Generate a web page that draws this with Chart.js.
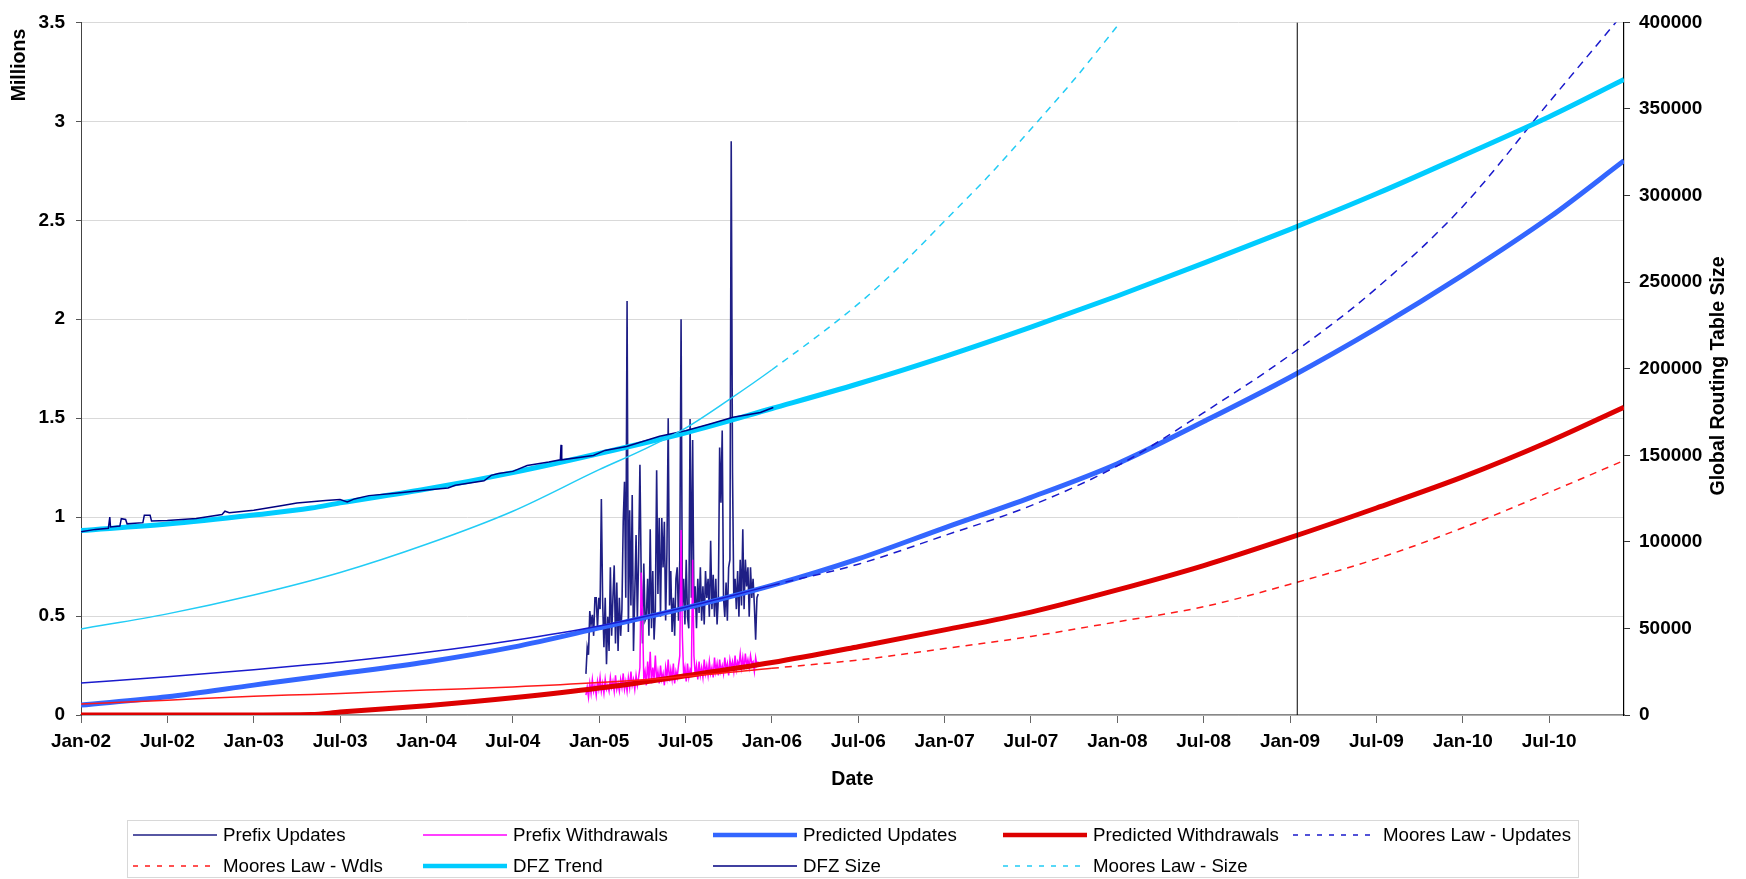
<!DOCTYPE html>
<html>
<head>
<meta charset="utf-8">
<title>BGP Updates and Routing Table Growth</title>
<script src="https://cdn.jsdelivr.net/npm/chart.js@4.4.0/dist/chart.umd.min.js"></script>
<style>
  html, body { margin: 0; padding: 0; background: #fff; }
  canvas { display: block; }
</style>
</head>
<body>
<canvas id="chart" width="1746" height="879"></canvas>
<script>
// ── Data ────────────────────────────────────────────────────────────────────
// x values are months counted from Jan-02
const tickMonths = [0, 6, 12, 18, 24, 30, 36, 42, 48, 54, 60, 66, 72, 78, 84, 90, 96, 102];
const tickLabels = ['Jan-02', 'Jul-02', 'Jan-03', 'Jul-03', 'Jan-04', 'Jul-04', 'Jan-05', 'Jul-05', 'Jan-06',
                    'Jul-06', 'Jan-07', 'Jul-07', 'Jan-08', 'Jul-08', 'Jan-09', 'Jul-09', 'Jan-10', 'Jul-10'];
const lastMonth = 107.2;      // right edge of the date axis
const measuredEnd = 48;       // Moores law lines turn dashed from here
const markerMonth = 84.5;     // vertical marker line

// smooth model curves (left axis, millions)
const curveMonths = [0, 6, 12, 16, 18, 24, 30, 36, 42, 48, 54, 60, 66, 72, 78, 84, 90, 96, 102, 107.2];
const predictedUpdates     = [0.050, 0.092, 0.151, 0.190, 0.209, 0.268, 0.343, 0.440, 0.541, 0.655,
                              0.789, 0.946, 1.100, 1.270, 1.483, 1.707, 1.954, 2.223, 2.514, 2.801];
const predictedWithdrawals = [0.000, 0.000, 0.000, 0.002, 0.015, 0.047, 0.087, 0.136, 0.198, 0.265,
                              0.345, 0.430, 0.520, 0.632, 0.755, 0.896, 1.046, 1.203, 1.382, 1.555];
const mooresUpdates        = [0.162, 0.193, 0.229, 0.255, 0.268, 0.317, 0.377, 0.450, 0.545, 0.655,
                              0.762, 0.907, 1.058, 1.259, 1.528, 1.819, 2.156, 2.570, 3.097, 3.550];
const mooresWdls           = [0.055, 0.075, 0.095, 0.104, 0.109, 0.126, 0.142, 0.164, 0.195, 0.236,
                              0.278, 0.336, 0.397, 0.471, 0.547, 0.661, 0.789, 0.946, 1.125, 1.286];

// routing table trend (right axis, entries)
const dfzTrend = [106600, 110300, 115500, 119500, 122500, 130500, 140000, 151000, 163000, 177000,
                  191300, 207000, 224000, 242000, 261000, 280500, 301000, 323000, 345500, 367000];

const mooresSizeMonths = [0, 6, 12, 18, 24, 30, 36, 39, 42, 45, 48, 54, 57, 60, 63, 66, 69, 72.2];
const mooresSize = [49700, 58400, 69300, 82300, 98600, 117700, 141700, 153000, 165700, 182000,
                    199400, 237400, 260000, 285300, 310800, 338500, 367000, 400000];

// measured routing table size
const dfzMonths = [0, 1, 1.9, 2.0, 2.05, 2.7, 2.8, 3.1, 3.2, 4.3, 4.4, 4.8, 4.9, 6, 8, 9.8, 10, 10.3,
                   12, 14, 15, 17, 18, 18.5, 19, 20, 22, 24, 25.5, 26, 28, 28.5, 29, 30, 31, 32.5,
                   33.3, 33.35, 33.4, 35.6, 36.4, 37.9, 40.2, 42, 43.7, 45.3, 47.2, 48.1];
const dfzSize = [105800, 107200, 107800, 114300, 108600, 109100, 113400, 112900, 110400, 111100,
                 115400, 115400, 112000, 112300, 113500, 115800, 117700, 116800, 118300, 121000,
                 122500, 123900, 124500, 123100, 124800, 126700, 128200, 129900, 131100, 132700,
                 135300, 138400, 139500, 140700, 144100, 146100, 147400, 156000, 147400, 149900,
                 152800, 155100, 161000, 164200, 168100, 171900, 174700, 177600];

// measured daily-ish samples, Dec-04 to Dec-05 (millions)
const noiseStart = 35.08;
const noiseEnd = 47.05;
const prefixUpdates = [
  0.208, 0.342, 0.304, 0.525, 0.458, 0.506, 0.40, 0.592, 0.592, 0.438, 0.592, 0.535, 1.092, 0.573,
  0.342, 0.592, 0.256, 0.496, 0.323, 0.746, 0.40, 0.592, 0.756, 0.362, 0.669, 0.323, 0.592, 0.40,
  0.535, 0.977, 1.179, 0.592, 2.092, 0.419, 1.035, 0.554, 1.112, 0.323, 0.612, 0.91, 0.477, 0.804,
  1.265, 0.688, 0.362, 0.765, 0.477, 0.496, 0.688, 0.40, 0.938, 0.438, 0.727, 0.381, 0.535, 1.237,
  0.612, 0.996, 0.496, 0.996, 0.746, 0.977, 0.477, 0.823, 1.50, 0.554, 0.727, 0.419, 0.592, 0.40,
  0.688, 0.746, 0.477, 0.785, 2.00, 0.535, 0.688, 0.458, 0.785, 0.496, 0.438, 1.496, 0.592, 1.39,
  0.535, 0.65, 0.438, 0.688, 0.515, 0.746, 0.477, 0.65, 0.458, 0.727, 0.592, 0.688, 0.496, 0.881,
  0.535, 0.708, 0.496, 0.688, 0.458, 0.592, 1.352, 1.073, 1.438, 0.592, 0.496, 0.669, 0.477, 0.746,
  0.785, 2.90, 1.227, 0.592, 0.688, 0.535, 0.727, 0.496, 0.785, 0.554, 0.938, 0.535, 0.785, 0.65,
  0.746, 0.496, 0.746, 0.592, 0.688, 0.554, 0.381, 0.592, 0.612
];
const prefixWithdrawals = [
  0.10, 0.14, 0.09, 0.16, 0.11, 0.18, 0.12, 0.15, 0.10, 0.17, 0.13, 0.19, 0.12, 0.16, 0.11, 0.18,
  0.13, 0.15, 0.12, 0.19, 0.14, 0.17, 0.12, 0.20, 0.13, 0.16, 0.12, 0.18, 0.14, 0.21, 0.13, 0.17,
  0.12, 0.19, 0.14, 0.22, 0.15, 0.18, 0.13, 0.20, 0.15, 0.19, 0.24, 0.72, 0.50, 0.18, 0.22, 0.15,
  0.27, 0.17, 0.32, 0.16, 0.24, 0.18, 0.30, 0.17, 0.22, 0.16, 0.25, 0.18, 0.21, 0.15, 0.24, 0.19,
  0.28, 0.17, 0.23, 0.18, 0.26, 0.16, 0.22, 0.19, 0.25, 0.30, 0.935, 0.40, 0.20, 0.24, 0.17, 0.26,
  0.19, 0.23, 0.21, 0.785, 0.30, 0.20, 0.25, 0.18, 0.27, 0.20, 0.24, 0.19, 0.28, 0.21, 0.25, 0.20,
  0.27, 0.21, 0.24, 0.19, 0.29, 0.22, 0.26, 0.20, 0.28, 0.22, 0.25, 0.21, 0.29, 0.23, 0.26, 0.20,
  0.28, 0.24, 0.27, 0.22, 0.30, 0.23, 0.27, 0.25, 0.31, 0.24, 0.29, 0.23, 0.31, 0.25, 0.28, 0.24,
  0.30, 0.26, 0.27, 0.22, 0.29, 0.25, 0.27
];

// ── Helpers ─────────────────────────────────────────────────────────────────
const FONT = "'Liberation Sans', Arial, Helvetica, sans-serif";
const pts = (xs, ys) => ys.map((y, i) => ({ x: xs[i], y }));
const noiseMonths = prefixUpdates.map((_, i) => noiseStart + i * (noiseEnd - noiseStart) / (prefixUpdates.length - 1));
const dashAfterMeasured = dash => ctx => (ctx.p0.parsed.x >= measuredEnd ? dash : undefined);

const series = [
  { label: 'Prefix Updates', data: pts(noiseMonths, prefixUpdates), color: '#1f1f85', width: 1.6, axis: 'y' },
  { label: 'Prefix Withdrawals', data: pts(noiseMonths, prefixWithdrawals), color: '#ff00ff', width: 1.5, axis: 'y' },
  { label: 'Predicted Updates', data: pts(curveMonths, predictedUpdates), color: '#3366ff', width: 5, axis: 'y', smooth: true },
  { label: 'Predicted Withdrawals', data: pts(curveMonths, predictedWithdrawals), color: '#dd0000', width: 5, axis: 'y', smooth: true },
  { label: 'Moores Law - Updates', data: pts(curveMonths, mooresUpdates), color: '#1a1acc', width: 1.5, axis: 'y', smooth: true, dash: [8, 6] },
  { label: 'Moores Law - Wdls', data: pts(curveMonths, mooresWdls), color: '#ff1a1a', width: 1.5, axis: 'y', smooth: true, dash: [7, 6] },
  { label: 'DFZ Trend', data: pts(curveMonths, dfzTrend), color: '#00ccff', width: 5, axis: 'y2', smooth: true },
  { label: 'DFZ Size', data: pts(dfzMonths, dfzSize), color: '#000080', width: 1.5, axis: 'y2' },
  { label: 'Moores Law - Size', data: pts(mooresSizeMonths, mooresSize), color: '#22ccf5', width: 1.5, axis: 'y2', smooth: true, dash: [7, 6] }
];

// later series sit on top, as in the original spreadsheet chart
const datasets = series.map((s, i) => ({
  label: s.label,
  data: s.data,
  yAxisID: s.axis,
  borderColor: s.color,
  backgroundColor: s.color,
  borderWidth: s.width,
  pointRadius: 0,
  fill: false,
  cubicInterpolationMode: s.smooth ? 'monotone' : 'default',
  tension: 0,
  order: series.length - i + 1,
  segment: s.dash ? { borderDash: dashAfterMeasured(s.dash) } : undefined,
  legendDash: s.dash ? [5, 7] : null
}));

datasets.push({
  label: '',
  data: [{ x: markerMonth, y: 0 }, { x: markerMonth, y: 3.5 }],
  yAxisID: 'y',
  borderColor: '#000',
  borderWidth: 1,
  pointRadius: 0,
  order: 0,
  hideInLegend: true
});

// ── Titles + legend drawn on canvas ─────────────────────────────────────────
const decorPlugin = {
  id: 'decor',
  afterDraw(chart) {
    const { ctx, chartArea } = chart;
    ctx.save();
    ctx.fillStyle = '#000';
    ctx.textBaseline = 'middle';

    // axis titles
    ctx.font = `bold 19.5px ${FONT}`;
    ctx.textAlign = 'center';
    ctx.fillText('Date', (chartArea.left + chartArea.right) / 2, 780);

    ctx.save();
    ctx.translate(20, 65);
    ctx.rotate(-Math.PI / 2);
    ctx.fillText('Millions', 0, 0);
    ctx.restore();

    ctx.save();
    ctx.translate(1719, 376);
    ctx.rotate(-Math.PI / 2);
    ctx.fillText('Global Routing Table Size', 0, 0);
    ctx.restore();

    // legend box
    ctx.strokeStyle = '#d8d8d8';
    ctx.lineWidth = 1;
    ctx.strokeRect(127.5, 820.5, 1451, 57);

    ctx.font = `18.7px ${FONT}`;
    ctx.textAlign = 'left';
    chart.data.datasets.filter(d => !d.hideInLegend).forEach((d, i) => {
      const col = i % 5;
      const row = Math.floor(i / 5);
      const x0 = 133 + col * 290;
      const y = 835 + row * 31;
      ctx.save();
      ctx.strokeStyle = d.borderColor;
      ctx.lineWidth = Math.min(d.borderWidth, 4.5);
      ctx.setLineDash(d.legendDash || []);
      ctx.beginPath();
      ctx.moveTo(x0, y);
      ctx.lineTo(x0 + 84, y);
      ctx.stroke();
      ctx.restore();
      ctx.fillText(d.label, x0 + 90, y + 1);
    });
    ctx.restore();
  }
};

// ── Chart ───────────────────────────────────────────────────────────────────
Chart.defaults.font.family = FONT;
Chart.defaults.color = '#000';

new Chart(document.getElementById('chart'), {
  type: 'line',
  data: { datasets },
  plugins: [decorPlugin],
  options: {
    responsive: false,
    animation: false,
    events: [],
    layout: { padding: { top: 18, bottom: 90, left: 0, right: 0 } },
    plugins: {
      legend: { display: false },
      tooltip: { enabled: false }
    },
    scales: {
      x: {
        type: 'linear',
        min: 0,
        max: lastMonth,
        afterBuildTicks: s => { s.ticks = tickMonths.map(v => ({ value: v })); },
        afterFit: s => { s.height = 74; },
        ticks: {
          autoSkip: false,
          maxRotation: 0,
          padding: 7,
          font: { size: 19, weight: 'bold' },
          callback: (v, i) => tickLabels[i]
        },
        grid: { drawOnChartArea: false, drawTicks: true, tickLength: 8, tickColor: '#666' },
        border: { color: '#888', width: 1.5 }
      },
      y: {
        position: 'left',
        min: 0,
        max: 3.5,
        afterFit: s => { s.width = 81; },
        ticks: {
          stepSize: 0.5,
          padding: 11,
          font: { size: 19, weight: 'bold' },
          callback: v => String(v)
        },
        grid: { color: '#d9d9d9', tickLength: 5, tickColor: '#555' },
        border: { color: '#444', width: 1 }
      },
      y2: {
        position: 'right',
        min: 0,
        max: 400000,
        afterFit: s => { s.width = 122; },
        ticks: {
          stepSize: 50000,
          padding: 9,
          font: { size: 19, weight: 'bold' },
          callback: v => String(v)
        },
        grid: { drawOnChartArea: false, tickLength: 6, tickColor: '#333' },
        border: { color: '#000', width: 1.2 }
      }
    }
  }
});
</script>
</body>
</html>
